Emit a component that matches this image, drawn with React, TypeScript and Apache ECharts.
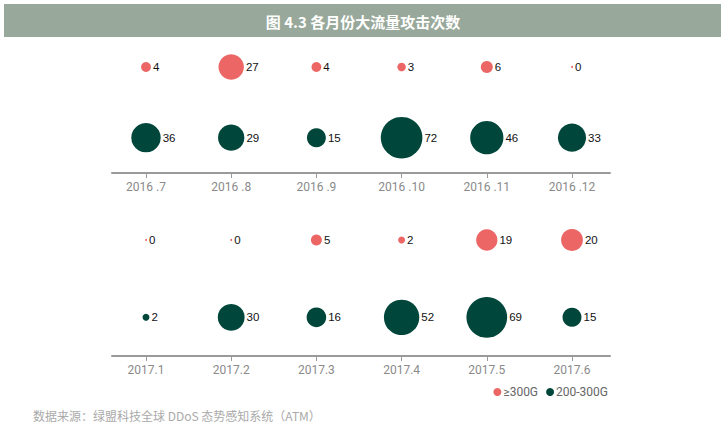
import React, { useEffect, useRef } from "react";
import * as echarts from "echarts";

const months2016 = ["2016 .7", "2016 .8", "2016 .9", "2016 .10", "2016 .11", "2016 .12"];
const months2017 = ["2017.1", "2017.2", "2017.3", "2017.4", "2017.5", "2017.6"];
const over300_2016 = [4, 27, 4, 3, 6, 0];
const mid_2016 = [36, 29, 15, 72, 46, 33];
const over300_2017 = [0, 0, 5, 2, 19, 20];
const mid_2017 = [2, 30, 16, 52, 69, 15];

const seriesNames = ["≥300G", "200-300G"];
const RED = "#ec6666";
const GREEN = "#01463a";

export default function App() {
  const ref = useRef<HTMLDivElement>(null);
  useEffect(() => {
    document.body.style.margin = "0";
    const chart = echarts.init(ref.current!, null, { renderer: "svg" });
    const idx = [0, 1, 2, 3, 4, 5];
    const xAxis = (months: string[], gridIndex: number) => ({
      type: "value",
      gridIndex,
      min: -0.399,
      max: 5.446,
      splitLine: { show: false },
      axisLine: { show: true, lineStyle: { color: "#9a9a9a", width: 2 } },
      axisTick: { show: true, customValues: idx, length: 5, lineStyle: { color: "#9a9a9a" } },
      axisLabel: {
        customValues: idx,
        formatter: (v: number) => months[Math.round(v)],
        color: "#8a8a8a",
        fontSize: 12,
        fontFamily: "Roboto",
        margin: 8,
      },
    });
    const yAxis = (gridIndex: number) => ({
      type: "value",
      gridIndex,
      min: 0.5,
      max: 2,
      show: false,
    });
    const mk = (name: string, vals: number[], y: number, color: string, i: number) => ({
      name,
      type: "scatter",
      xAxisIndex: i,
      yAxisIndex: i,
      data: vals.map((v, k) => [k, y, v]),
      symbolSize: (d: number[]) => Math.max(2, 4.9 * Math.sqrt(d[2])),
      itemStyle: { color, opacity: 1 },
      label: {
        show: true,
        position: "right",
        distance: 2,
        formatter: (p: any) => String(p.data[2]),
        color: "#111",
        fontSize: 11.5,
        fontFamily: "Arial, Liberation Sans",
      },
      emphasis: { disabled: true },
    });
    chart.setOption({
      animation: false,
      grid: [
        { left: 112, width: 498, top: 67, height: 106 },
        { left: 112, width: 498, top: 240, height: 116 },
      ],
      xAxis: [xAxis(months2016, 0), xAxis(months2017, 1)],
      yAxis: [yAxis(0), yAxis(1)],
      legend: {
        data: seriesNames,
        right: 118,
        top: 386,
        padding: 0,
        icon: "circle",
        itemWidth: 8,
        itemHeight: 8,
        itemGap: 8,
        textStyle: { color: "#666", fontSize: 12, fontFamily: "Roboto", padding: [0, 0, 0, -3] },
      },
      series: [
        mk(seriesNames[0], over300_2016, 2, RED, 0),
        mk(seriesNames[1], mid_2016, 1, GREEN, 0),
        mk(seriesNames[0], over300_2017, 2, RED, 1),
        mk(seriesNames[1], mid_2017, 1, GREEN, 1),
      ],
      graphic: [
        {
          type: "rect",
          shape: { x: 4, y: 4, width: 717, height: 33 },
          style: { fill: "#98a89a" },
          silent: true,
        },
        {
          type: "text",
          x: 363,
          y: 21,
          style: {
            text: "图 4.3 各月份大流量攻击次数",
            fill: "#fff",
            fontSize: 15,
            fontWeight: "bold",
            fontFamily: "Noto Sans CJK SC",
            align: "center",
            verticalAlign: "middle",
          },
        },
        {
          type: "text",
          x: 33,
          y: 415,
          style: {
            text: "数据来源：绿盟科技全球 DDoS 态势感知系统（ATM）",
            fill: "#aaa",
            fontSize: 12,
            fontFamily: "Noto Sans CJK SC",
            verticalAlign: "middle",
          },
        },
      ],
    });
    return () => chart.dispose();
  }, []);
  return <div ref={ref} style={{ width: 726, height: 428 }} />;
}
